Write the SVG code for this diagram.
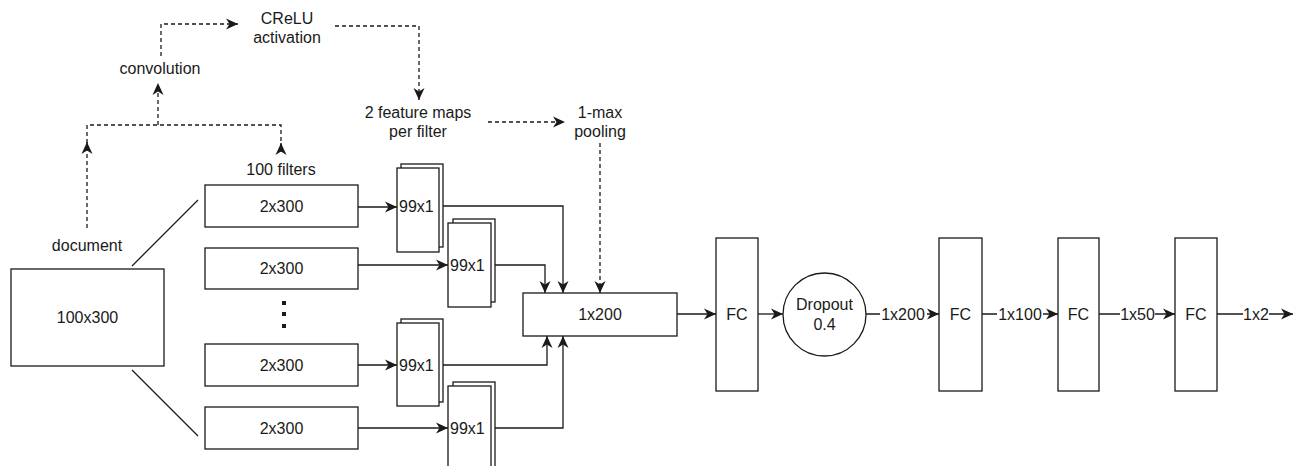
<svg xmlns="http://www.w3.org/2000/svg" width="1301" height="466" viewBox="0 0 1301 466">
<style>
  text { font-family: "Liberation Sans", Arial, Helvetica, sans-serif; font-size: 16px; fill: #1a1a1a; }
  .c { text-anchor: middle; }
  .box { fill: #ffffff; stroke: #1a1a1a; stroke-width: 1.3; }
  .ln { fill: none; stroke: #1a1a1a; stroke-width: 1.3; }
  .dash { fill: none; stroke: #1a1a1a; stroke-width: 1.3; stroke-dasharray: 4 3; }
  .lbl { fill: #ffffff; stroke: none; }
</style>
<defs>
  <marker id="arr" markerUnits="userSpaceOnUse" viewBox="-13 -6 14 12" refX="0" refY="0" markerWidth="14" markerHeight="12" orient="auto">
    <path d="M0,0 L-12,-5.5 L-8.5,0 L-12,5.5 Z" fill="#1a1a1a" stroke="none"/>
  </marker>
</defs>
<rect width="1301" height="466" fill="#ffffff"/>

<g id="connectors">
  <!-- dashed annotation flow -->
  <path class="dash" d="M87,228 V142" marker-end="url(#arr)"/>
  <path class="dash" d="M87,143 V125 H281 V148"/>
  <path class="ln" d="M281,152 V143" marker-end="url(#arr)"/>
  <path class="dash" d="M158,125 V83" marker-end="url(#arr)"/>
  <path class="dash" d="M161,56 V24 H238" marker-end="url(#arr)"/>
  <path class="dash" d="M335,26 H419 V100" marker-end="url(#arr)"/>
  <path class="dash" d="M488,122 H565" marker-end="url(#arr)"/>
  <path class="dash" d="M600,143 V293" marker-end="url(#arr)"/>
  <!-- document to filters -->
  <path class="ln" d="M198,200 L132,266"/>
  <path class="ln" d="M132,370 L198,436"/>
  <!-- filters to feature maps -->
  <path class="ln" d="M358,207 H397" marker-end="url(#arr)"/>
  <path class="ln" d="M358,265 H448" marker-end="url(#arr)"/>
  <path class="ln" d="M358,365 H397" marker-end="url(#arr)"/>
  <path class="ln" d="M358,428 H448" marker-end="url(#arr)"/>
  <!-- feature maps to 1x200 -->
  <path class="ln" d="M443,206 H563 V293" marker-end="url(#arr)"/>
  <path class="ln" d="M495,265 H545 V293" marker-end="url(#arr)"/>
  <path class="ln" d="M443,365 H547 V336" marker-end="url(#arr)"/>
  <path class="ln" d="M495,428 H563 V336" marker-end="url(#arr)"/>
  <!-- dense head -->
  <path class="ln" d="M677,314 H716" marker-end="url(#arr)"/>
  <path class="ln" d="M758,314 H783" marker-end="url(#arr)"/>
  <path class="ln" d="M866,314 H939" marker-end="url(#arr)"/>
  <path class="ln" d="M982,314 H1058" marker-end="url(#arr)"/>
  <path class="ln" d="M1099,314 H1175" marker-end="url(#arr)"/>
  <path class="ln" d="M1217,314 H1293" marker-end="url(#arr)"/>
  <!-- edge labels -->
  <rect class="lbl" x="880" y="305" width="47" height="18"/>
  <text class="c" x="903" y="320">1x200</text>
  <rect class="lbl" x="997" y="305" width="46" height="18"/>
  <text class="c" x="1020" y="320">1x100</text>
  <rect class="lbl" x="1120" y="305" width="35" height="18"/>
  <text class="c" x="1137.5" y="320">1x50</text>
  <rect class="lbl" x="1243" y="305" width="26" height="18"/>
  <text class="c" x="1256" y="320">1x2</text>
</g>

<g id="label-crelu"><text class="c" x="287" y="24">CReLU</text><text class="c" x="287" y="43">activation</text></g>
<g id="label-convolution"><text class="c" x="160" y="74">convolution</text></g>
<g id="label-featuremaps"><text class="c" x="418" y="118">2 feature maps</text><text class="c" x="418" y="137">per filter</text></g>
<g id="label-pooling"><text class="c" x="600" y="118">1-max</text><text class="c" x="600" y="137">pooling</text></g>
<g id="label-filters"><text class="c" x="281" y="175">100 filters</text></g>
<g id="label-document"><text class="c" x="87" y="251">document</text></g>

<g id="doc"><rect class="box" x="11" y="269" width="153" height="97"/><text class="c" x="87.5" y="323">100x300</text></g>

<g id="filter1"><rect class="box" x="205" y="185" width="153" height="42"/><text class="c" x="281.5" y="212">2x300</text></g>
<g id="filter2"><rect class="box" x="205" y="248" width="153" height="41"/><text class="c" x="281.5" y="274">2x300</text></g>
<g id="dots"><rect x="282" y="301" width="4" height="4" fill="#1a1a1a"/><rect x="282" y="312" width="4" height="4" fill="#1a1a1a"/><rect x="282" y="324" width="4" height="4" fill="#1a1a1a"/></g>
<g id="filter3"><rect class="box" x="205" y="344" width="153" height="42"/><text class="c" x="281.5" y="371">2x300</text></g>
<g id="filter4"><rect class="box" x="205" y="407" width="153" height="42"/><text class="c" x="281.5" y="434">2x300</text></g>

<g id="fmap1"><rect class="box" x="401" y="164" width="42" height="83"/><rect class="box" x="397" y="168" width="42" height="84"/><text x="399" y="212">99x1</text></g>
<g id="fmap2"><rect class="box" x="453" y="219" width="42" height="83"/><rect class="box" x="448" y="223" width="43" height="84"/><text x="450" y="271">99x1</text></g>
<g id="fmap3"><rect class="box" x="401" y="319" width="42" height="83"/><rect class="box" x="397" y="323" width="42" height="83"/><text x="399" y="371">99x1</text></g>
<g id="fmap4"><rect class="box" x="453" y="382" width="42" height="90"/><rect class="box" x="448" y="386" width="43" height="90"/><text x="450" y="434">99x1</text></g>

<g id="concat"><rect class="box" x="523" y="293" width="154" height="43"/><text class="c" x="600" y="320">1x200</text></g>
<g id="fc1"><rect class="box" x="716" y="238" width="42" height="153"/><text class="c" x="737" y="320">FC</text></g>
<g id="dropout"><circle class="box" cx="824.5" cy="314.5" r="41.5"/><text class="c" x="824.5" y="310">Dropout</text><text class="c" x="824.5" y="330">0.4</text></g>
<g id="fc2"><rect class="box" x="939" y="238" width="43" height="153"/><text class="c" x="960.5" y="320">FC</text></g>
<g id="fc3"><rect class="box" x="1058" y="238" width="41" height="153"/><text class="c" x="1078.5" y="320">FC</text></g>
<g id="fc4"><rect class="box" x="1175" y="238" width="42" height="153"/><text class="c" x="1196" y="320">FC</text></g>
</svg>
